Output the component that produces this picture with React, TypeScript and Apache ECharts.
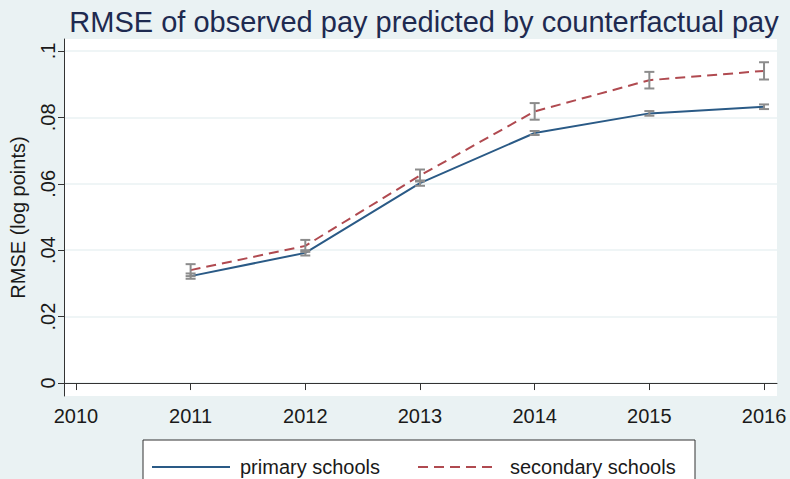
import React, { useEffect, useRef } from "react";
import * as echarts from "echarts";

const years = [2011, 2012, 2013, 2014, 2015, 2016];
const primary = [0.0322, 0.0392, 0.0602, 0.0753, 0.0812, 0.0832];
const primaryErr = [0.0008, 0.0008, 0.0008, 0.0006, 0.0007, 0.0007];
const secondary = [0.034, 0.0413, 0.0625, 0.0818, 0.0912, 0.094];
const secondaryErr = [0.0018, 0.0018, 0.0018, 0.0025, 0.0025, 0.0026];
const xTicks = [2010, 2011, 2012, 2013, 2014, 2015, 2016];
const yTicks = [0, 0.02, 0.04, 0.06, 0.08, 0.1];
const seriesNames = ["primary schools", "secondary schools"];
const titleText = "RMSE of observed pay predicted by counterfactual pay";
const yAxisName = "RMSE (log points)";

const FONT = "Liberation Sans, Arial, sans-serif";
const BLUE = "#2a5a86";
const RED = "#b04a50";
const GRAY = "#8c8c8c";

function errData(vals: number[], errs: number[]) {
  return years.map((y, i) => [y, vals[i] - errs[i], vals[i] + errs[i]]);
}

function renderErr(params: any, api: any) {
  const x = api.value(0);
  const lo = api.coord([x, api.value(1)]);
  const hi = api.coord([x, api.value(2)]);
  const hw = 5;
  const style = { stroke: GRAY, lineWidth: 2 };
  return {
    type: "group",
    children: [
      { type: "line", shape: { x1: lo[0], y1: lo[1], x2: hi[0], y2: hi[1] }, style },
      { type: "line", shape: { x1: lo[0] - hw, y1: lo[1], x2: lo[0] + hw, y2: lo[1] }, style },
      { type: "line", shape: { x1: hi[0] - hw, y1: hi[1], x2: hi[0] + hw, y2: hi[1] }, style },
    ],
  };
}

export default function App() {
  const ref = useRef<HTMLDivElement>(null);
  useEffect(() => {
    if (!ref.current) return;
    const chart = echarts.init(ref.current, undefined, { renderer: "svg" });
    chart.setOption({
      animation: false,
      backgroundColor: "#eaf2f3",
      title: {
        text: titleText,
        left: 419,
        textAlign: "center",
        top: 2,
        textStyle: { fontFamily: FONT, fontSize: 29, fontWeight: "normal", color: "#1e2a50" },
      },
      grid: { left: 61, right: 13, top: 39, bottom: 83, show: true, backgroundColor: "#ffffff", borderWidth: 0 },
      xAxis: {
        type: "value",
        min: 2009.896,
        max: 2016.113,
        axisLine: { show: true, lineStyle: { color: "#333", width: 1 } },
        axisTick: { show: true, length: 7, customValues: xTicks, lineStyle: { color: "#333" } },
        axisLabel: {
          customValues: xTicks,
          fontFamily: FONT,
          fontSize: 20,
          color: "#1a1a1a",
          margin: 10,
          formatter: (v: number) => String(Math.round(v)),
        },
        splitLine: { show: false },
      },
      yAxis: {
        type: "value",
        min: -0.0039,
        max: 0.1036,
        name: yAxisName,
        nameLocation: "middle",
        nameRotate: 90,
        nameGap: 36,
        nameTextStyle: { fontFamily: FONT, fontSize: 20, color: "#1a1a1a" },
        axisLine: { show: true, lineStyle: { color: "#333", width: 1 } },
        axisTick: { show: true, length: 6, customValues: yTicks, lineStyle: { color: "#333" } },
        axisLabel: {
          customValues: yTicks,
          rotate: 90,
          fontFamily: FONT,
          fontSize: 20,
          color: "#1a1a1a",
          margin: 6,
          formatter: (v: number) => (v === 0 ? "0" : String(Number(v.toFixed(2))).replace(/^0/, "")),
        },
        splitLine: { show: true, lineStyle: { color: "#eaf2f3", width: 1.5 } },
      },
      graphic: [
        {
          type: "rect",
          shape: { x: 143, y: 440, width: 552, height: 70 },
          style: { fill: "#ffffff", stroke: "#333", lineWidth: 1 },
        },
        {
          type: "line",
          shape: { x1: 152, y1: 467, x2: 230, y2: 467 },
          style: { stroke: BLUE, lineWidth: 2 },
        },
        {
          type: "text",
          x: 240,
          y: 467,
          style: { text: seriesNames[0], fontFamily: FONT, fontSize: 20, fill: "#1a1a1a", verticalAlign: "middle" },
        },
        {
          type: "line",
          shape: { x1: 418, y1: 467, x2: 497, y2: 467 },
          style: { stroke: RED, lineWidth: 2, lineDash: [10, 6] },
        },
        {
          type: "text",
          x: 510,
          y: 467,
          style: { text: seriesNames[1], fontFamily: FONT, fontSize: 20, fill: "#1a1a1a", verticalAlign: "middle" },
        },
      ],
      series: [
        {
          name: seriesNames[0],
          type: "line",
          data: years.map((y, i) => [y, primary[i]]),
          symbol: "none",
          lineStyle: { color: BLUE, width: 2 },
          z: 2,
        },
        {
          name: seriesNames[1],
          type: "line",
          data: years.map((y, i) => [y, secondary[i]]),
          symbol: "none",
          lineStyle: { color: RED, width: 2, type: [10, 6] },
          z: 2,
        },
        {
          type: "custom",
          renderItem: renderErr,
          data: errData(primary, primaryErr),
          z: 3,
        },
        {
          type: "custom",
          renderItem: renderErr,
          data: errData(secondary, secondaryErr),
          z: 3,
        },
      ],
    });
    return () => chart.dispose();
  }, []);
  return <div ref={ref} style={{ width: 790, height: 479, position: "absolute", left: 0, top: 0 }} />;
}
